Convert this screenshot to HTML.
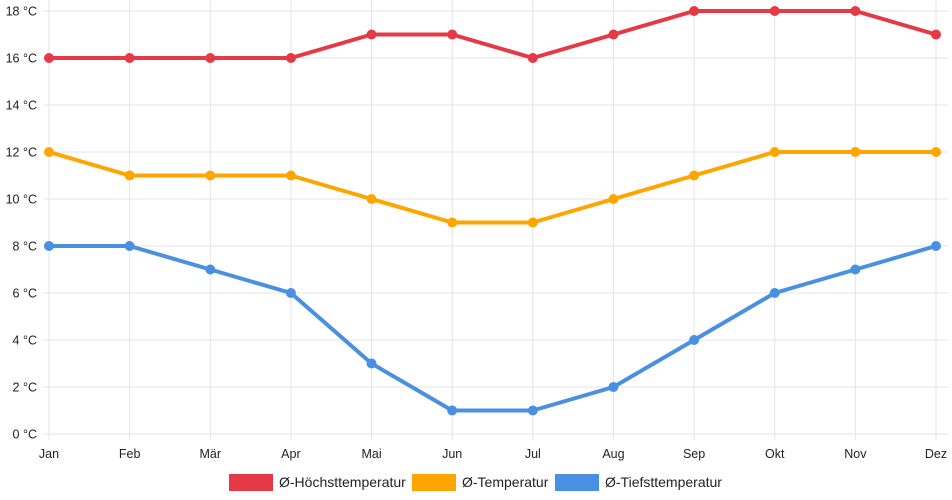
<!DOCTYPE html>
<html><head><meta charset="utf-8"><style>
body{margin:0;background:#fff;font-family:"Liberation Sans",sans-serif}
svg{display:block}
</style></head><body>
<svg id="c" width="952" height="500"></svg>
<script>
const months=["Jan","Feb","Mär","Apr","Mai","Jun","Jul","Aug","Sep","Okt","Nov","Dez"];
const highTemps=[16,16,16,16,17,17,16,17,18,18,18,17];
const avgTemps=[12,11,11,11,10,9,9,10,11,12,12,12];
const lowTemps=[8,8,7,6,3,1,1,2,4,6,7,8];
const yTicks=[0,2,4,6,8,10,12,14,16,18];
const seriesNames=["Ø-Höchsttemperatur","Ø-Temperatur","Ø-Tiefsttemperatur"];
const seriesColors=["#e63946","#ffa500","#4a90e2"];
const NS="http://www.w3.org/2000/svg";
const svg=document.getElementById('c');
const x0=49,x1=936,y0=434,y1=11,ymax=18;
function xs(i){return x0+(x1-x0)*i/(months.length-1);}
function ys(v){return y0-(y0-y1)*v/ymax;}
function mk(t,a,p){const e=document.createElementNS(NS,t);for(const k in a)e.setAttribute(k,a[k]);(p||svg).appendChild(e);return e;}
yTicks.forEach(v=>{
 const l=mk('line',{x1:x0-6,x2:x1+12,y1:ys(v),y2:ys(v),stroke:'#e4e4e4','stroke-width':1});
 
 
 const t=mk('text',{x:37,y:ys(v)+4.5,'text-anchor':'end','font-size':12.5,fill:'#222'});
 t.textContent=v+' °C';
 
 
});
months.forEach((m,i)=>{
 const l=mk('line',{x1:xs(i),x2:xs(i),y1:0,y2:y0+6,stroke:'#e4e4e4','stroke-width':1});
 
 
 const t=mk('text',{x:xs(i),y:y0+24,'text-anchor':'middle','font-size':12.5,fill:'#222'});
 t.textContent=m;
 
 
});
[highTemps,avgTemps,lowTemps].forEach((d,s)=>{
 const g=mk('g',{});
 
 
 const p=mk('polyline',{points:d.map((v,i)=>xs(i)+','+ys(v)).join(' '),fill:'none',stroke:seriesColors[s],'stroke-width':4,'stroke-linejoin':'round'},g);
 
 
 d.forEach((v,i)=>{
  const c=mk('circle',{cx:xs(i),cy:ys(v),r:5,fill:seriesColors[s]},g);
  
  
 });
});
const lx=[229,412,555];
seriesNames.forEach((n,s)=>{
 const g=mk('g',{});
 
 
 mk('rect',{x:lx[s],y:474,width:44,height:17,fill:seriesColors[s]},g);
 const t=mk('text',{x:lx[s]+50,y:487,'font-size':14,fill:'#222'},g);
 t.textContent=n;
});
</script>
</body></html>
